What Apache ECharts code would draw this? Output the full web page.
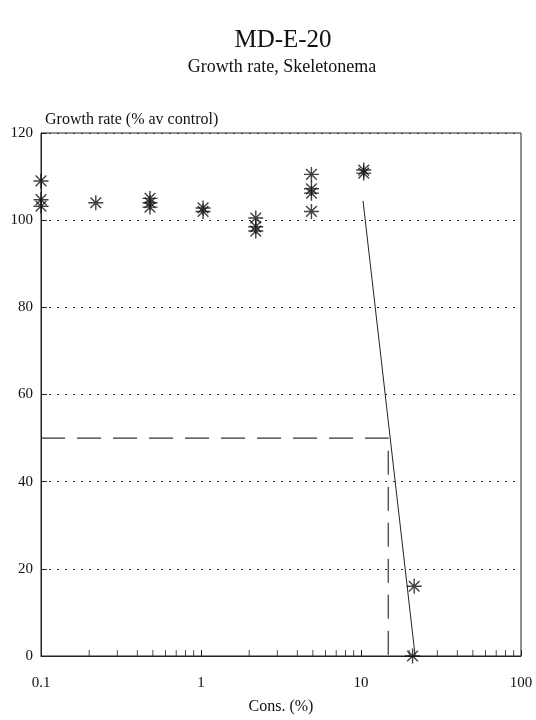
<!DOCTYPE html>
<html><head><meta charset="utf-8">
<script src="https://cdn.jsdelivr.net/npm/echarts@6/dist/echarts.min.js"></script>
<style>html,body{margin:0;padding:0;background:#fff}#c{width:536px;height:720px}</style>
</head><body><div id="c"></div>
<script>
const titleText = 'MD-E-20';
const subtitleText = 'Growth rate, Skeletonema';
const yAxisTitle = 'Growth rate (% av control)';
const xAxisTitle = 'Cons. (%)';
const conc   = [0.1, 0.1, 0.1, 0.22, 0.48, 0.48, 0.48, 1.03, 1.03, 2.2, 2.2, 2.2, 4.9, 4.9, 4.9, 4.9, 10.4, 10.4, 21.5, 21];
const growth = [109, 104.7, 103.2, 104, 105, 104, 103, 102.8, 102, 100.5, 98.5, 97.5, 110.5, 107.2, 106.2, 102, 111.5, 110.8, 16, 0];
const fitX = [10.3, 21.8];
const fitY = [104.4, 0];
const ec50X = [0.1, 14.8, 14.8];
const ec50Y = [50, 50, 0];
const minorTicks = [0.2,0.3,0.4,0.5,0.6,0.7,0.8,0.9,2,3,4,5,6,7,8,9,20,30,40,50,60,70,80,90];

const serif = '"Liberation Serif", "DejaVu Serif", serif';
const star = 'path://M0,8L16,8M8,0L8,16M2.3,2.3L13.7,13.7M2.3,13.7L13.7,2.3';
const chart = echarts.init(document.getElementById('c'), null, {renderer: 'canvas'});
chart.setOption({
  animation: false,
  backgroundColor: '#fff',
  textStyle: {fontFamily: serif, color: '#111'},
  graphic: [
    {type: 'text', x: 283, y: 28, style: {text: titleText, fontFamily: serif, fontSize: 25, fill: '#111', align: 'center'}},
    {type: 'text', x: 282, y: 58, style: {text: subtitleText, fontFamily: serif, fontSize: 18, fill: '#111', align: 'center'}},
    {type: 'text', x: 45, y: 112, style: {text: yAxisTitle, fontFamily: serif, fontSize: 16, fill: '#111'}}
  ],
  grid: {left: 41, right: 15, top: 133, bottom: 58, show: true, borderColor: '#222', borderWidth: 1},
  xAxis: {
    type: 'log', logBase: 10, min: 0.1, max: 100,
    name: xAxisTitle, nameLocation: 'middle', nameGap: 43,
    nameTextStyle: {fontFamily: serif, fontSize: 16, color: '#111'},
    axisLine: {onZero: false, lineStyle: {color: '#222', width: 1}},
    axisTick: {show: true, inside: true, length: 6, lineStyle: {color: '#222'}},
    axisLabel: {fontFamily: serif, fontSize: 15, color: '#111', margin: 20,
      formatter: v => String(+v.toPrecision(3))},
    splitLine: {show: false}
  },
  yAxis: {
    type: 'value', min: 0, max: 120, interval: 20,
    axisLine: {show: true, lineStyle: {color: '#222', width: 1}},
    axisTick: {show: true, inside: true, length: 6, lineStyle: {color: '#222'}},
    axisLabel: {fontFamily: serif, fontSize: 15, color: '#111', margin: 8},
    splitLine: {show: true, lineStyle: {color: '#333', type: [2, 6], width: 1}}
  },
  series: [
    {type: 'scatter', data: minorTicks.map(v => [v, 0]), symbol: 'rect', symbolSize: [1, 6], symbolOffset: [0, -3],
      itemStyle: {color: '#222'}, silent: true, z: 1},
    {type: 'line', data: ec50X.map((x, i) => [x, ec50Y[i]]), symbol: 'none',
      lineStyle: {color: '#333', width: 1.2, type: [24, 12]}, silent: true},
    {type: 'line', data: fitX.map((x, i) => [x, fitY[i]]), symbol: 'none',
      lineStyle: {color: '#222', width: 1}, silent: true},
    {type: 'scatter', data: conc.map((x, i) => [x, growth[i]]), symbol: star, symbolSize: 15,
      itemStyle: {color: 'transparent', borderColor: '#111', borderWidth: 1.4}, z: 5}
  ]
});
</script></body></html>
